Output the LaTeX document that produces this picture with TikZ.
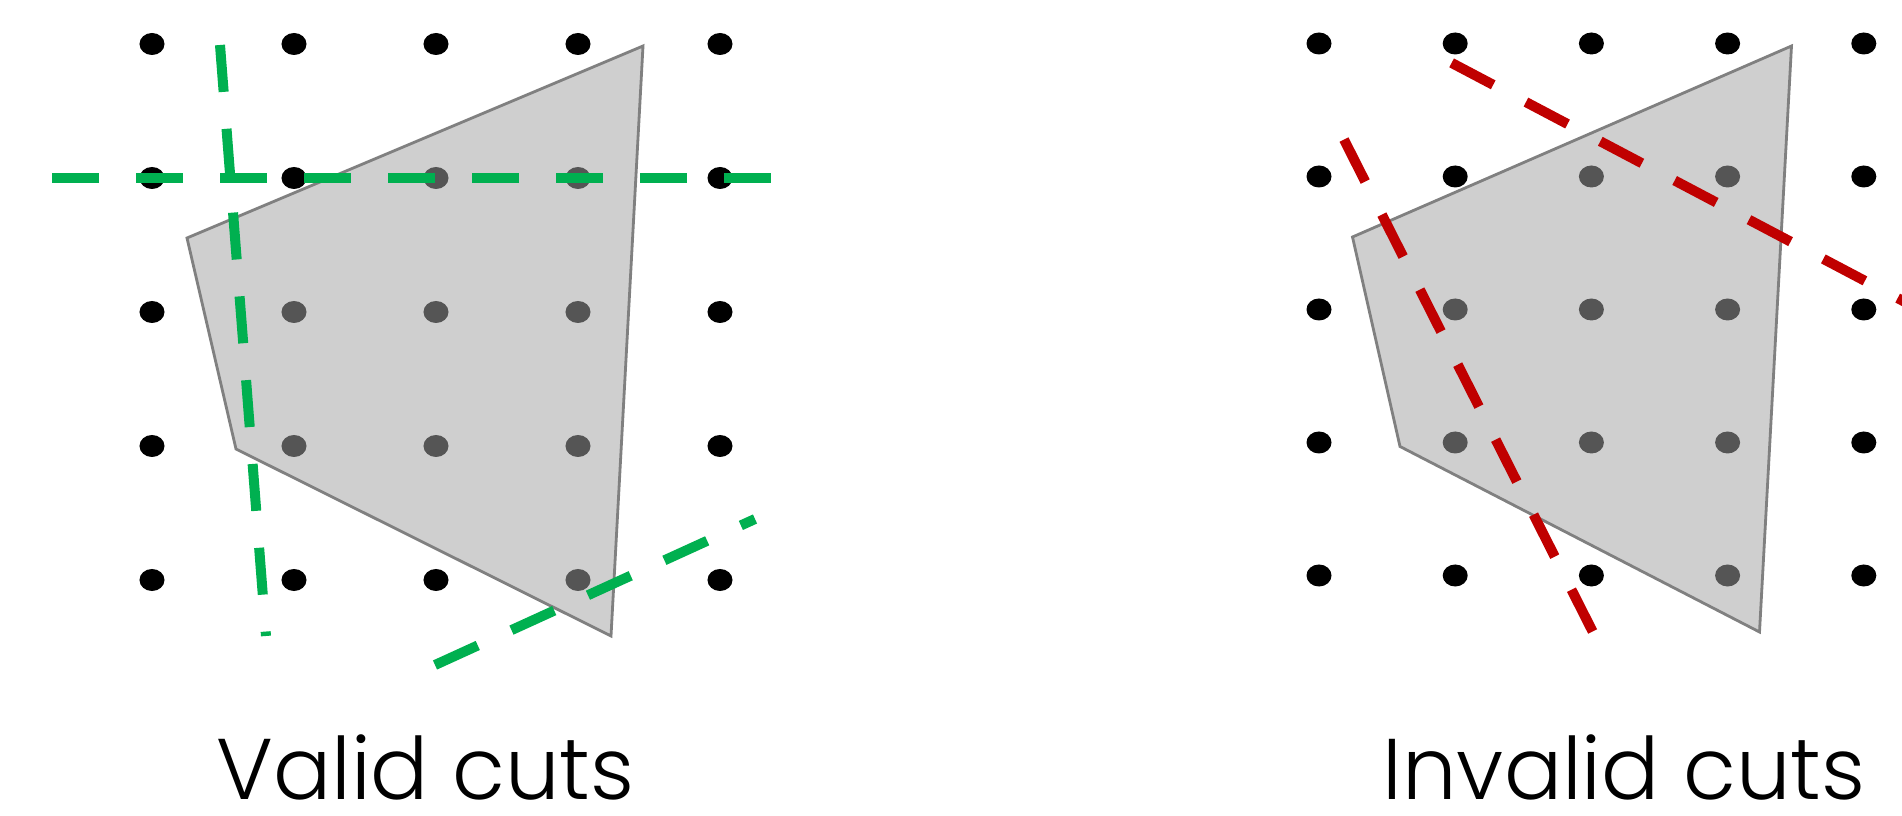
\documentclass[tikz,border=0pt]{standalone}
\usepackage{fontspec}
\IfFontExistsTF{Poppins Light}{\setmainfont{Poppins Light}}{\setmainfont{Poppins}}
\definecolor{cutgreen}{RGB}{0,176,80}
\definecolor{cutred}{RGB}{192,0,0}
\tikzset{
    latticept/.style={
        fill=black
    },
    region/.style={
        draw=black!50,
        line width=0.8pt,
        fill=black!36,
        fill opacity=0.52
    },
    goodcut/.style={
        cutgreen,
        line width=0.1cm,
        dash pattern=on 0.47cm off 0.37cm
    },
    badcut/.style={
        cutred,
        line width=0.1cm,
        dash pattern=on 0.47cm off 0.37cm
    },
    caption/.style={
        anchor=base,
        inner sep=0pt,
        text depth=0pt,
        font=\fontsize{24.5pt}{29pt}\selectfont
    }
}

\begin{document}
\begin{tikzpicture}[x=0.01cm,y=-0.01cm]
\useasboundingbox (0,0) rectangle (1902,816);
\clip (0,0) rectangle (1902,816);

% valid side
\foreach \i in {0,...,4}
    \foreach \j in {0,...,4}
        \fill[latticept] ({152+142*\i},{44+134*\j}) ellipse [x radius=1.25mm, y radius=1.1mm];

\coordinate (LA) at (643,46);
\coordinate (LB) at (187,238);
\coordinate (LC) at (236,449);
\coordinate (LD) at (611,636);
\draw[region] (LA) -- (LB) -- (LC) -- (LD) -- cycle;

\coordinate (G1s) at (52,178);
\coordinate (G1e) at (772,178);
\coordinate (G2s) at (220,45);
\coordinate (G2e) at (266,636);
\coordinate (G3s) at (435,665);
\coordinate (G3e) at (755,519);
\draw[goodcut] (G1s) -- (G1e);
\draw[goodcut] (G2s) -- (G2e);
\draw[goodcut] (G3s) -- (G3e);

% invalid side
\foreach \i in {0,...,4}
    \foreach \j in {0,...,4}
        \fill[latticept] ({1319+136.2*\i},{43.5+133*\j}) ellipse [x radius=1.25mm, y radius=1.1mm];

\coordinate (RA) at (1791.5,46);
\coordinate (RB) at (1352.5,237);
\coordinate (RC) at (1400,446.5);
\coordinate (RD) at (1759.5,632);
\draw[region] (RA) -- (RB) -- (RC) -- (RD) -- cycle;

\coordinate (R1s) at (1344,139.6);
\coordinate (R1e) at (1592.6,631.5);
\coordinate (R2s) at (1451.6,62.9);
\coordinate (R2e) at (1960,331);
\draw[badcut] (R1s) -- (R1e);
\draw[badcut] (R2s) -- (R2e);

\node[caption] (valid) at (425.5,800) {Valid cuts};
\node[caption] (invalid) at (1624,800) {Invalid cuts};

\end{tikzpicture}
\end{document}
